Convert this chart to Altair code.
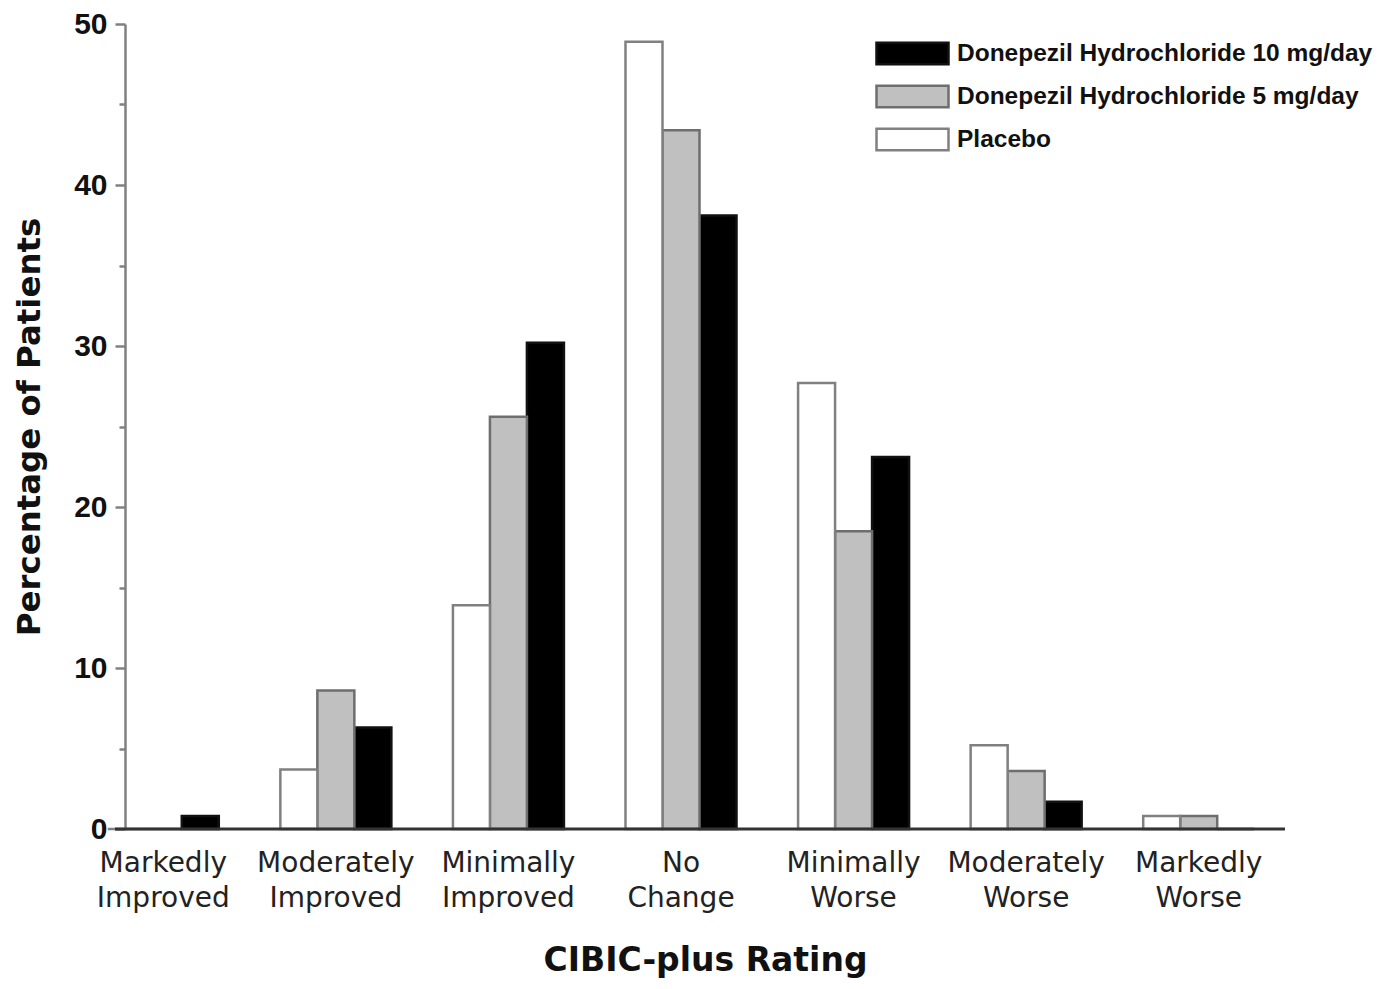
import altair as alt
import pandas as pd

categories = ["Markedly Improved", "Moderately Improved", "Minimally Improved", "No Change",
              "Minimally Worse", "Moderately Worse", "Markedly Worse"]
series_names = ["Donepezil Hydrochloride 10 mg/day", "Donepezil Hydrochloride 5 mg/day", "Placebo"]
dose10 = [0.8, 6.3, 30.2, 38.1, 23.1, 1.7, 0.0]
dose5 = [0.0, 8.6, 25.6, 43.4, 18.5, 3.6, 0.8]
placebo = [0.0, 3.7, 13.9, 48.9, 27.7, 5.2, 0.8]
y_ticks = [0, 5, 10, 15, 20, 25, 30, 35, 40, 45, 50]

rows = []
for name, vals in zip(series_names, [dose10, dose5, placebo]):
    for c, v in zip(categories, vals):
        rows.append({"category": c, "series": name, "value": v})
df = pd.DataFrame(rows)

W, H = 1160, 805

bars = alt.Chart(df).mark_bar(strokeWidth=2.5).encode(
    x=alt.X("category:N", sort=categories,
            scale=alt.Scale(range=[-48, W], paddingInner=0, paddingOuter=0),
            axis=alt.Axis(title="CIBIC-plus Rating", domain=False, ticks=False,
                          labelAngle=0, labelExpr="split(datum.label, ' ')",
                          labelFont="DejaVu Sans", labelFontSize=28, labelColor="#222",
                          labelLineHeight=35, labelPadding=20, labelBaseline="top",
                          titleFont="DejaVu Sans", titleFontSize=33, titleFontWeight="bold",
                          titleColor="#111", titlePadding=32, titleX=580)),
    xOffset=alt.XOffset("series:N", sort=["Placebo", series_names[1], series_names[0]],
                        scale=alt.Scale(paddingOuter=0.832, paddingInner=0)),
    y=alt.Y("value:Q", scale=alt.Scale(domain=[0, 50], nice=False),
            axis=alt.Axis(values=y_ticks, grid=False, labelFlush=False,
                          labelExpr="datum.value % 10 == 0 ? datum.label : ''",
                          tickSize={"condition": {"test": "datum.value % 10 == 0", "value": 10}, "value": 6},
                          domainColor="#808080", domainWidth=2.5,
                          tickColor="#808080", tickWidth=2.5,
                          labelFont="Liberation Sans", labelFontSize=30, labelFontWeight="bold",
                          labelColor="#111", labelPadding=8,
                          title="Percentage of Patients", titleFont="DejaVu Sans",
                          titleFontSize=32.4, titleFontWeight="bold", titleColor="#111",
                          titlePadding=27)),
    color=alt.Color("series:N",
                    scale=alt.Scale(domain=series_names, range=["#000000", "#c0c0c0", "#ffffff"]),
                    legend=alt.Legend(title=None, orient="none", legendX=774, legendY=16,
                                      symbolType="M-3,-0.9 h6 v1.8 h-6 Z", symbolSize=576,
                                      symbolStrokeColor="#707070", symbolStrokeWidth=2.5,
                                      symbolOpacity=1,
                                      labelFont="Liberation Sans", labelFontSize=24.5,
                                      labelFontWeight="bold", labelColor="#111",
                                      labelOffset=31, rowPadding=10, padding=0, labelLimit=0)),
    stroke=alt.Stroke("series:N",
                      scale=alt.Scale(domain=series_names, range=["#111111", "#6e6e6e", "#808080"]),
                      legend=None),
)

baseline = alt.Chart(pd.DataFrame({"zero": [0]})).mark_rule(color="#333333", strokeWidth=3).encode(
    y=alt.Y("zero:Q"),
    x=alt.value(-10),
    x2=alt.value(W),
)

chart = alt.layer(bars, baseline).properties(
    width=W, height=H,
    autosize=alt.AutoSizeParams(type="none"),
    padding={"left": 117, "top": 16, "right": 90, "bottom": 152},
).configure(background="white", view=alt.ViewConfig(stroke=None))

chart.save("out.html", embed_options={"renderer": "svg", "actions": False})
